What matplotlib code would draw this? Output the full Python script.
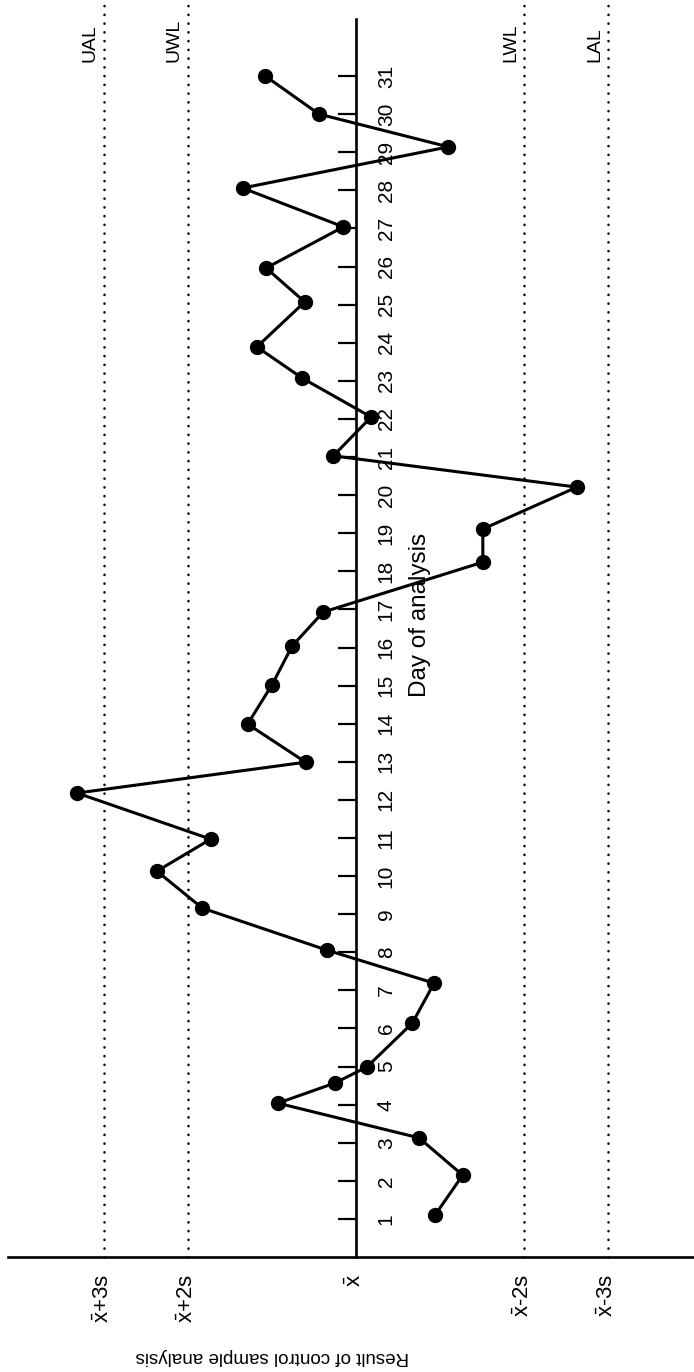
import matplotlib
matplotlib.use("Agg")
import matplotlib.pyplot as plt

plt.rcParams['font.family'] = ['Liberation Sans', 'DejaVu Sans']
plt.rcParams['mathtext.fontset'] = 'custom'
plt.rcParams['mathtext.it'] = 'Liberation Sans'
plt.rcParams['mathtext.rm'] = 'Liberation Sans'

# control chart, drawn turned a quarter turn (days run upwards)
days = [1.1, 2.15, 3.13, 4.04, 4.57, 4.99, 6.14, 7.19, 8.06, 9.16, 10.13, 10.97,
        12.18, 12.99, 13.99, 15.02, 16.04, 16.93, 18.24, 19.11, 20.21, 21.03,
        22.05, 23.07, 23.89, 25.07, 25.96, 27.04, 28.06, 29.14, 30.0, 31.0]
results = [-0.94, -1.27, -0.75, 0.93, 0.25, -0.13, -0.67, -0.93, 0.35, 1.83, 2.37, 1.73,
           3.32, 0.6, 1.29, 1.0, 0.76, 0.39, -1.51, -1.51, -2.63, 0.27,
           -0.18, 0.64, 1.18, 0.61, 1.07, 0.15, 1.35, -1.10, 0.44, 1.08]

day_ticks = list(range(1, 32))
limit_values = [3, 2, -2, -3]
limit_names = ['UAL', 'UWL', 'LWL', 'LAL']
result_ticks = [3, 2, 0, -2, -3]
result_labels = [r'$\bar{x}$+3s', r'$\bar{x}$+2s', r'$\bar{x}$', r'$\bar{x}$-2s', r'$\bar{x}$-3s']

fig = plt.figure(figsize=(6.94, 13.72), dpi=100)
ax = fig.add_axes([0, 0, 1, 1])
ax.set_xlim(4.238, -4.024)
ax.set_ylim(-3.016, 32.995)
ax.patch.set_visible(False)

for s in ['top', 'left']:
    ax.spines[s].set_visible(False)
ax.spines['right'].set_position(('data', 0))
ax.spines['right'].set_bounds(0, 32.5)
ax.spines['bottom'].set_position(('data', 0))
ax.spines['bottom'].set_bounds(4.14, -4.024)
for s in ['right', 'bottom']:
    ax.spines[s].set_linewidth(1.9)

ax.yaxis.tick_right()
ax.set_yticks(day_ticks)
ax.set_yticklabels([str(d) for d in day_ticks])
ax.tick_params(axis='y', direction='in', length=13, width=1.6, pad=15,
               labelsize=15, labelrotation=90)
for lbl in ax.get_yticklabels():
    lbl.set_va('center')

ax.set_xticks(result_ticks)
ax.set_xticklabels(result_labels)
ax.tick_params(axis='x', length=0, pad=12, labelsize=16, labelrotation=90)

for v, name in zip(limit_values, limit_names):
    ax.plot([v, v], [0, 33], color='black', lw=1.8, linestyle=(0, (0.1, 3.4)),
            dash_capstyle='round', clip_on=False)
    ax.text(v + 0.06, 31.37, name, rotation=90, ha='right', va='bottom', fontsize=14)

ax.plot(results, days, color='black', lw=2.2, marker='o', markersize=10, zorder=5)

ax.text(-0.76, 16.85, 'Day of analysis', rotation=90, ha='center', va='center', fontsize=17.5)
fig.text(272 / 694, 1 - 1357 / 1372, 'Result of control sample analysis',
         rotation=180, ha='center', va='center', fontsize=13.5)

fig.savefig('out.png', dpi=100, facecolor='white')
